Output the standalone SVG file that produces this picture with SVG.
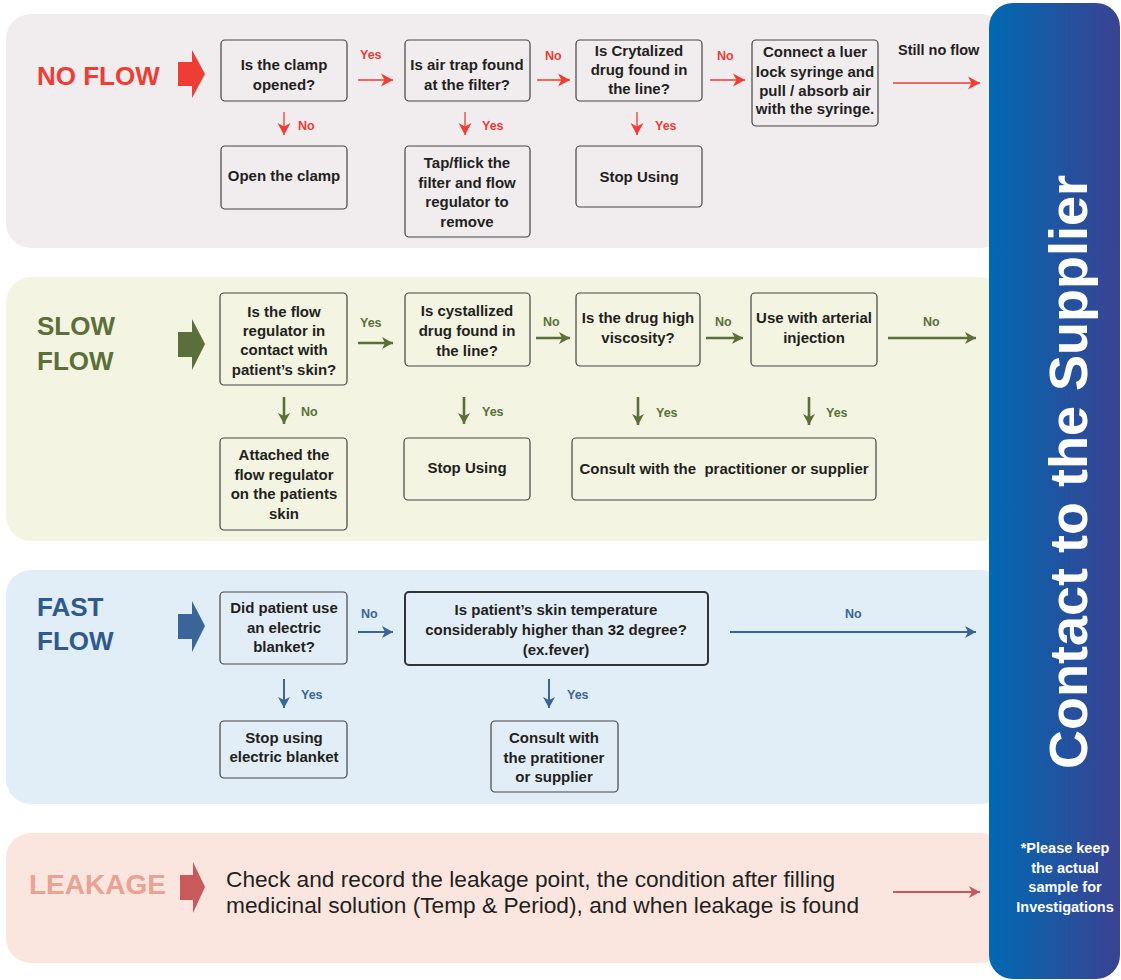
<svg xmlns="http://www.w3.org/2000/svg" width="1121" height="980" viewBox="0 0 1121 980">
  <style>
    .box { fill: none; stroke: #444444; stroke-width: 1.2; }
    .box-strong { fill: none; stroke: #333333; stroke-width: 2; }
    .bt { font-family: "Liberation Sans", Arial, sans-serif; font-weight: bold; font-size: 15px; fill: #231f20; text-anchor: middle; }
    .title { font-family: "Liberation Sans", Arial, sans-serif; font-weight: bold; font-size: 26px; }
    .lbl { font-family: "Liberation Sans", Arial, sans-serif; font-weight: bold; font-size: 12.5px; }
    .red { fill: #ee3d35; }
    .green { fill: #5b6f3a; }
    .blue { fill: #3a6596; }
    .salmon { fill: #c85a5b; }
    .c-red { stroke: #ee3d35; stroke-width: 1.3; fill: none; }
    .c-green { stroke: #5b6f3a; stroke-width: 2.6; fill: none; }
    .c-blue { stroke: #3a6596; stroke-width: 2; fill: none; }
    .c-salmon { stroke: #c85a5b; stroke-width: 2; fill: none; }
  </style>
  <defs>
    <linearGradient id="barGrad" x1="0" y1="0" x2="1" y2="0">
      <stop offset="0" stop-color="#0069b2"/>
      <stop offset="1" stop-color="#3b4292"/>
    </linearGradient>
    <marker id="hRed" markerUnits="userSpaceOnUse" markerWidth="13" markerHeight="15" refX="12" refY="7.5" orient="auto">
      <path d="M0,1 L12,7.5 L0,14 L3.5,7.5 Z" fill="#ee3d35"/>
    </marker>
    <marker id="hGreen" markerUnits="userSpaceOnUse" markerWidth="12" markerHeight="14" refX="11" refY="7" orient="auto">
      <path d="M0,1 L11,7 L0,13 L3,7 Z" fill="#5b6f3a"/>
    </marker>
    <marker id="hBlue" markerUnits="userSpaceOnUse" markerWidth="12" markerHeight="14" refX="11" refY="7" orient="auto">
      <path d="M0,1 L11,7 L0,13 L3,7 Z" fill="#3a6596"/>
    </marker>
    <marker id="hSalmon" markerUnits="userSpaceOnUse" markerWidth="12" markerHeight="14" refX="11" refY="7" orient="auto">
      <path d="M0,1 L11,7 L0,13 L3,7 Z" fill="#c85a5b"/>
    </marker>
  </defs>

  <rect width="1121" height="980" fill="#ffffff"/>

  <!-- section panels -->
  <g id="panels">
    <rect x="6" y="14" width="1000" height="234" rx="25" fill="#f1edef"/>
    <rect x="6" y="277" width="1000" height="264" rx="25" fill="#f3f5e2"/>
    <rect x="6" y="570" width="1000" height="234" rx="25" fill="#e2eef7"/>
    <rect x="6" y="833" width="1000" height="130" rx="25" fill="#fbe6df"/>
  </g>

  <!-- section headings with block arrows -->
  <g id="head-noflow">
    <text class="title red" x="37" y="85">NO FLOW</text>
    <polygon class="red" points="178,62 192,62 192,50 205,74 192,98 192,86 178,86"/>
  </g>
  <g id="head-slowflow">
    <text class="title green" x="37" y="335">SLOW</text>
    <text class="title green" x="37" y="370">FLOW</text>
    <polygon class="green" points="178,332 192,332 192,319 205,344 192,370 192,357 178,357"/>
  </g>
  <g id="head-fastflow">
    <text class="title" fill="#2f5a8b" x="37" y="616">FAST</text>
    <text class="title" fill="#2f5a8b" x="37" y="650">FLOW</text>
    <polygon class="blue" points="178,614 192,614 192,601 205,626 192,652 192,639 178,639"/>
  </g>
  <g id="head-leakage">
    <text class="title" fill="#e9a294" x="29" y="894" style="font-size:28px">LEAKAGE</text>
    <polygon class="salmon" points="180,875 193,875 193,862 205,887 193,913 193,900 180,900"/>
  </g>

  <!-- NO FLOW nodes -->
  <g id="nf-clamp">
    <rect class="box" x="221" y="40" width="126" height="61" rx="4"/>
    <text class="bt" x="284" y="70">Is the clamp</text>
    <text class="bt" x="284" y="90">opened?</text>
  </g>
  <g id="nf-open">
    <rect class="box" x="221" y="146" width="126" height="63" rx="4"/>
    <text class="bt" x="284" y="181">Open the clamp</text>
  </g>
  <g id="nf-airtrap">
    <rect class="box" x="405" y="40" width="125" height="61" rx="4"/>
    <text class="bt" x="467" y="70">Is air trap found</text>
    <text class="bt" x="467" y="90">at the filter?</text>
  </g>
  <g id="nf-tap">
    <rect class="box" x="405" y="146" width="125" height="91" rx="4"/>
    <text class="bt" x="467" y="168">Tap/flick the</text>
    <text class="bt" x="467" y="188">filter and flow</text>
    <text class="bt" x="467" y="207">regulator to</text>
    <text class="bt" x="467" y="227">remove</text>
  </g>
  <g id="nf-crystal">
    <rect class="box" x="576" y="40" width="126" height="61" rx="4"/>
    <text class="bt" x="639" y="56">Is Crytalized</text>
    <text class="bt" x="639" y="75">drug found in</text>
    <text class="bt" x="639" y="94">the line?</text>
  </g>
  <g id="nf-stop">
    <rect class="box" x="576" y="146" width="126" height="61" rx="4"/>
    <text class="bt" x="639" y="182">Stop Using</text>
  </g>
  <g id="nf-syringe">
    <rect class="box" x="752" y="40" width="126" height="86" rx="4"/>
    <text class="bt" x="815" y="57">Connect a luer</text>
    <text class="bt" x="815" y="77">lock syringe and</text>
    <text class="bt" x="815" y="96">pull / absorb air</text>
    <text class="bt" x="815" y="114">with the syringe.</text>
  </g>

  <!-- SLOW FLOW nodes -->
  <g id="sf-contact">
    <rect class="box" x="220" y="293" width="127" height="92" rx="4"/>
    <text class="bt" x="284" y="317">Is the flow</text>
    <text class="bt" x="284" y="336">regulator in</text>
    <text class="bt" x="284" y="355">contact with</text>
    <text class="bt" x="284" y="375">patient’s skin?</text>
  </g>
  <g id="sf-attach">
    <rect class="box" x="220" y="438" width="127" height="92" rx="4"/>
    <text class="bt" x="284" y="460">Attached the</text>
    <text class="bt" x="284" y="480">flow regulator</text>
    <text class="bt" x="284" y="499">on the patients</text>
    <text class="bt" x="284" y="519">skin</text>
  </g>
  <g id="sf-crystal">
    <rect class="box" x="405" y="293" width="125" height="73" rx="4"/>
    <text class="bt" x="467" y="316">Is cystallized</text>
    <text class="bt" x="467" y="336">drug found in</text>
    <text class="bt" x="467" y="356">the line?</text>
  </g>
  <g id="sf-stop">
    <rect class="box" x="404" y="438" width="126" height="62" rx="4"/>
    <text class="bt" x="467" y="473">Stop Using</text>
  </g>
  <g id="sf-viscosity">
    <rect class="box" x="576" y="293" width="124" height="73" rx="4"/>
    <text class="bt" x="638" y="323">Is the drug high</text>
    <text class="bt" x="638" y="343">viscosity?</text>
  </g>
  <g id="sf-arterial">
    <rect class="box" x="751" y="293" width="126" height="73" rx="4"/>
    <text class="bt" x="814" y="323">Use with arterial</text>
    <text class="bt" x="814" y="343">injection</text>
  </g>
  <g id="sf-consult">
    <rect class="box" x="572" y="438" width="304" height="62" rx="4"/>
    <text class="bt" x="724" y="474" xml:space="preserve">Consult with the  practitioner or supplier</text>
  </g>

  <!-- FAST FLOW nodes -->
  <g id="ff-blanket">
    <rect class="box" x="220" y="592" width="127" height="72" rx="4"/>
    <text class="bt" x="284" y="613">Did patient use</text>
    <text class="bt" x="284" y="633">an electric</text>
    <text class="bt" x="284" y="652">blanket?</text>
  </g>
  <g id="ff-stopblanket">
    <rect class="box" x="220" y="721" width="127" height="57" rx="4"/>
    <text class="bt" x="284" y="743">Stop using</text>
    <text class="bt" x="284" y="762">electric blanket</text>
  </g>
  <g id="ff-temperature">
    <rect class="box-strong" x="405" y="592" width="303" height="73" rx="4"/>
    <text class="bt" x="556" y="615">Is patient’s skin temperature</text>
    <text class="bt" x="556" y="635">considerably higher than 32 degree?</text>
    <text class="bt" x="556" y="655">(ex.fever)</text>
  </g>
  <g id="ff-consult">
    <rect class="box" x="491" y="721" width="127" height="71" rx="4"/>
    <text class="bt" x="554" y="743">Consult with</text>
    <text class="bt" x="554" y="763">the pratitioner</text>
    <text class="bt" x="554" y="782">or supplier</text>
  </g>

  <!-- LEAKAGE instruction -->
  <g id="lk-check" style="font-family:'Liberation Sans',Arial,sans-serif;font-size:22.7px;fill:#231f20">
    <text x="226" y="887">Check and record the leakage point, the condition after filling</text>
    <text x="226" y="913">medicinal solution (Temp &amp; Period), and when leakage is found</text>
  </g>

  <!-- connectors -->
  <g id="connectors">
    <!-- NO FLOW -->
    <line class="c-red" x1="358" y1="80" x2="393" y2="80" marker-end="url(#hRed)"/>
    <line class="c-red" x1="537" y1="80" x2="570" y2="80" marker-end="url(#hRed)"/>
    <line class="c-red" x1="710" y1="80" x2="745" y2="80" marker-end="url(#hRed)"/>
    <line class="c-red" x1="893" y1="83" x2="980" y2="83" marker-end="url(#hRed)"/>
    <line class="c-red" x1="284" y1="112" x2="284" y2="135" marker-end="url(#hRed)"/>
    <line class="c-red" x1="465" y1="112" x2="465" y2="135" marker-end="url(#hRed)"/>
    <line class="c-red" x1="637" y1="112" x2="637" y2="135" marker-end="url(#hRed)"/>
    <!-- SLOW FLOW -->
    <line class="c-green" x1="358" y1="343" x2="393" y2="343" marker-end="url(#hGreen)"/>
    <line class="c-green" x1="536" y1="338" x2="570" y2="338" marker-end="url(#hGreen)"/>
    <line class="c-green" x1="706" y1="338" x2="743" y2="338" marker-end="url(#hGreen)"/>
    <line class="c-green" x1="888" y1="338" x2="976" y2="338" marker-end="url(#hGreen)"/>
    <line class="c-green" x1="284" y1="397" x2="284" y2="424" marker-end="url(#hGreen)"/>
    <line class="c-green" x1="464" y1="397" x2="464" y2="424" marker-end="url(#hGreen)"/>
    <line class="c-green" x1="638" y1="397" x2="638" y2="425" marker-end="url(#hGreen)"/>
    <line class="c-green" x1="809" y1="397" x2="809" y2="425" marker-end="url(#hGreen)"/>
    <!-- FAST FLOW -->
    <line class="c-blue" x1="358" y1="632" x2="393" y2="632" marker-end="url(#hBlue)"/>
    <line class="c-blue" x1="730" y1="632" x2="976" y2="632" marker-end="url(#hBlue)"/>
    <line class="c-blue" x1="284" y1="679" x2="284" y2="708" marker-end="url(#hBlue)"/>
    <line class="c-blue" x1="549" y1="679" x2="549" y2="708" marker-end="url(#hBlue)"/>
    <!-- LEAKAGE -->
    <line class="c-salmon" x1="893" y1="892" x2="980" y2="892" marker-end="url(#hSalmon)"/>
  </g>

  <!-- connector labels -->
  <g id="connector-labels">
    <text class="lbl red" x="360" y="59">Yes</text>
    <text class="lbl red" x="545" y="60">No</text>
    <text class="lbl red" x="717" y="60">No</text>
    <text x="898" y="55" style="font-family:'Liberation Sans',Arial,sans-serif;font-weight:bold;font-size:14.5px;fill:#231f20">Still no flow</text>
    <text class="lbl red" x="298" y="130">No</text>
    <text class="lbl red" x="482" y="130">Yes</text>
    <text class="lbl red" x="655" y="130">Yes</text>

    <text class="lbl green" x="360" y="327">Yes</text>
    <text class="lbl green" x="543" y="326">No</text>
    <text class="lbl green" x="715" y="326">No</text>
    <text class="lbl green" x="923" y="326">No</text>
    <text class="lbl green" x="301" y="416">No</text>
    <text class="lbl green" x="482" y="416">Yes</text>
    <text class="lbl green" x="656" y="417">Yes</text>
    <text class="lbl green" x="826" y="417">Yes</text>

    <text class="lbl blue" x="361" y="618">No</text>
    <text class="lbl blue" x="845" y="618">No</text>
    <text class="lbl blue" x="301" y="699">Yes</text>
    <text class="lbl blue" x="567" y="699">Yes</text>
  </g>

  <!-- supplier bar -->
  <g id="supplier">
    <rect x="989" y="3" width="131" height="976" rx="24" fill="url(#barGrad)"/>
    <text transform="translate(1087,472) rotate(-90)" text-anchor="middle" style="font-family:'Liberation Sans',Arial,sans-serif;font-weight:bold;font-size:54px;fill:#ffffff">Contact to the Supplier</text>
    <g style="font-family:'Liberation Sans',Arial,sans-serif;font-weight:bold;font-size:14.5px;fill:#ffffff" text-anchor="middle">
      <text x="1065" y="853">*Please keep</text>
      <text x="1065" y="873">the actual</text>
      <text x="1065" y="892">sample for</text>
      <text x="1065" y="912">Investigations</text>
    </g>
  </g>
</svg>
